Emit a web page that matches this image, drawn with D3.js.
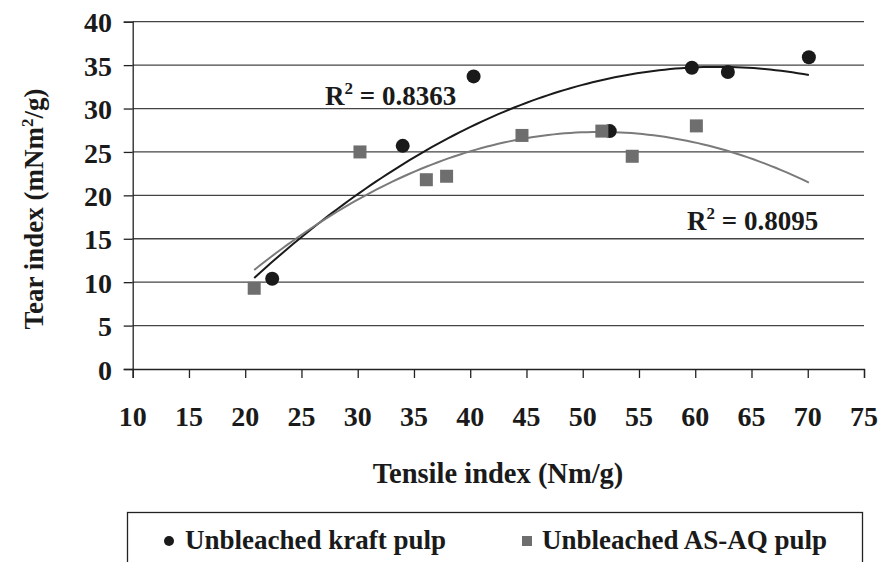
<!DOCTYPE html>
<html>
<head>
<meta charset="utf-8">
<script src="https://cdn.jsdelivr.net/npm/d3@7"></script>
<style>
	body { margin: 0; background: white; }
	svg text { font-family: "Liberation Serif", "Times New Roman", serif; font-weight: bold; fill: #1a1a1a; }
</style>
</head>
<body>
<div class="chart"></div>
<script>
// kraft pulp points (tensile, tear)
const kraftX = [22.4, 34.0, 40.3, 52.4, 59.7, 62.9, 70.1]
const kraftY = [10.4, 25.7, 33.7, 27.4, 34.7, 34.2, 35.9]
// AS-AQ pulp points
const asaqX = [20.8, 30.2, 36.1, 37.9, 44.6, 51.7, 54.4, 60.1]
const asaqY = [9.3, 25.0, 21.8, 22.2, 26.9, 27.4, 24.5, 28.0]
// polynomial trendlines, y = a x^2 + b x + c
const kraftFit = [-0.01432, 1.7757, -20.25]
const asaqFit = [-0.01687, 1.7376, -17.44]
const fitRange = [20.8, 70.1]
const kraftR2 = "0.8363"
const asaqR2 = "0.8095"
const xTicks = [10, 15, 20, 25, 30, 35, 40, 45, 50, 55, 60, 65, 70, 75]
const yTicks = [0, 5, 10, 15, 20, 25, 30, 35, 40]
const seriesNames = ["Unbleached kraft pulp", "Unbleached AS-AQ pulp"]

function plot_chart() {
	let width = 881
	let height = 562
	let fs = 27

	let svg = d3.select(".chart")
		.append("svg")
		.attr("width", width)
		.attr("height", height)

	let x = d3.scaleLinear().domain([10, 75]).range([132.7, 864])
	let y = d3.scaleLinear().domain([0, 40]).range([369, 21.7])

	// gridlines
	svg.append("g")
		.selectAll("line")
		.data(yTicks.filter(d => d > 0))
		.join("line")
		.attr("x1", x(10)).attr("x2", x(75))
		.attr("y1", d => y(d)).attr("y2", d => y(d))
		.attr("stroke", "#444")
		.attr("stroke-width", 1.3)

	// axes
	let xAxis = svg.append("g")
		.attr("transform", `translate(0,${y(0)})`)
		.call(d3.axisBottom(x).tickValues(xTicks).tickSize(9).tickFormat(""))
	let yAxis = svg.append("g")
		.attr("transform", `translate(${x(10)},0)`)
		.call(d3.axisLeft(y).tickValues(yTicks).tickSize(9).tickFormat(""))
	for (const ax of [xAxis, yAxis]) {
		ax.select(".domain").attr("stroke", "#222").attr("stroke-width", 1.3)
		ax.selectAll(".tick line").attr("stroke", "#222").attr("stroke-width", 1.3)
	}

	// tick labels
	svg.append("g")
		.selectAll("text")
		.data(xTicks)
		.join("text")
		.attr("x", d => x(d))
		.attr("y", 426)
		.attr("text-anchor", "middle")
		.style("font-size", "28px")
		.text(d => d)
	svg.append("g")
		.selectAll("text")
		.data(yTicks)
		.join("text")
		.attr("x", 112)
		.attr("y", d => y(d))
		.attr("dy", "0.38em")
		.attr("text-anchor", "end")
		.style("font-size", "28px")
		.text(d => d)

	// axis titles
	svg.append("text")
		.attr("x", 498)
		.attr("y", 483)
		.attr("text-anchor", "middle")
		.style("font-size", "28.5px")
		.text("Tensile index (Nm/g)")

	let yt = svg.append("text")
		.attr("transform", "translate(43,209) rotate(-90)")
		.attr("text-anchor", "middle")
		.style("font-size", fs + "px")
	yt.append("tspan").text("Tear index (mNm")
	yt.append("tspan").attr("dy", -10).style("font-size", "17px").text("2")
	yt.append("tspan").attr("dy", 10).text("/g)")

	// trendlines
	let line = d3.line().x(d => x(d[0])).y(d => y(d[1]))
	function curve(c) {
		return d3.range(0, 101).map(i => {
			let t = fitRange[0] + (fitRange[1] - fitRange[0]) * i / 100
			return [t, c[0] * t * t + c[1] * t + c[2]]
		})
	}
	svg.append("path")
		.attr("d", line(curve(kraftFit)))
		.attr("fill", "none")
		.attr("stroke", "#1a1a1a")
		.attr("stroke-width", 2)
	svg.append("path")
		.attr("d", line(curve(asaqFit)))
		.attr("fill", "none")
		.attr("stroke", "#7a7a7a")
		.attr("stroke-width", 2)

	// markers
	svg.append("g")
		.selectAll("circle")
		.data(d3.zip(kraftX, kraftY))
		.join("circle")
		.attr("cx", d => x(d[0]))
		.attr("cy", d => y(d[1]))
		.attr("r", 7)
		.attr("fill", "#1a1a1a")
	svg.append("g")
		.selectAll("rect")
		.data(d3.zip(asaqX, asaqY))
		.join("rect")
		.attr("x", d => x(d[0]) - 6.5)
		.attr("y", d => y(d[1]) - 6.5)
		.attr("width", 13)
		.attr("height", 13)
		.attr("fill", "#6e6e6e")

	// R2 labels
	function r2label(px, py, val) {
		let t = svg.append("text")
			.attr("x", px)
			.attr("y", py)
			.style("font-size", fs + "px")
		t.append("tspan").text("R")
		t.append("tspan").attr("dy", -11).style("font-size", "17px").text("2")
		t.append("tspan").attr("dy", 11).text(" = " + val)
	}
	r2label(325, 105, kraftR2)
	r2label(687, 230, asaqR2)

	// legend
	svg.append("rect")
		.attr("x", 127.5)
		.attr("y", 512.5)
		.attr("width", 735)
		.attr("height", 60)
		.attr("fill", "none")
		.attr("stroke", "#222")
		.attr("stroke-width", 1.3)
	svg.append("circle")
		.attr("cx", 169)
		.attr("cy", 541)
		.attr("r", 5)
		.attr("fill", "#1a1a1a")
	svg.append("text")
		.attr("x", 185)
		.attr("y", 549)
		.style("font-size", fs + "px")
		.text(seriesNames[0])
	svg.append("rect")
		.attr("x", 522)
		.attr("y", 536)
		.attr("width", 10)
		.attr("height", 10)
		.attr("fill", "#6e6e6e")
	svg.append("text")
		.attr("x", 542)
		.attr("y", 549)
		.style("font-size", fs + "px")
		.text(seriesNames[1])
}

plot_chart()
</script>
</body>
</html>
